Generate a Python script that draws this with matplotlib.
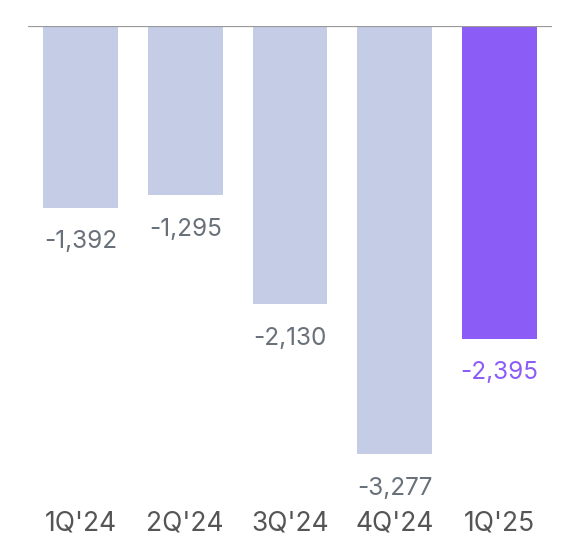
import matplotlib
matplotlib.use("Agg")
import matplotlib.pyplot as plt
import matplotlib.transforms as mtransforms

quarters = ["1Q'24", "2Q'24", "3Q'24", "4Q'24", "1Q'25"]
values = [-1392, -1295, -2130, -3277, -2395]
labels = ["-1,392", "-1,295", "-2,130", "-3,277", "-2,395"]

light = '#c5cce6'
purple = '#8b5cf6'
colors = [light] * 4 + [purple]
label_colors = ['#68707a'] * 4 + [purple]

plt.rcParams['font.family'] = ['Inter', 'DejaVu Sans']

fig = plt.figure(figsize=(5.72, 5.40), dpi=100)
# axes from x=28..552 px, y=26..500 px
ax = fig.add_axes([28 / 572, 1 - 500 / 540, 524 / 572, 474 / 540])
ax.bar(range(len(values)), values, width=0.714, color=colors, edgecolor='none')
ax.set_xlim(-0.5, 4.5)
ax.set_ylim(-3629, 0)
ax.axhline(0, color='#999999', linewidth=1.6, zorder=3)

for i, (v, lab) in enumerate(zip(values, labels)):
    ax.annotate(lab, (i, v), xytext=(0, -34 * 72 / 100), textcoords='offset points',
                ha='center', va='center', fontsize=17.5, color=label_colors[i])

trans = mtransforms.blended_transform_factory(ax.transData, fig.transFigure)
for i, q in enumerate(quarters):
    ax.text(i, 1 - 524 / 540, q, transform=trans, ha='center', va='center',
            fontsize=19, color='#555555')

ax.set_xticks([])
ax.set_yticks([])
for s in ax.spines.values():
    s.set_visible(False)

fig.savefig("out.png", dpi=100, facecolor='white')
plt.close(fig)
